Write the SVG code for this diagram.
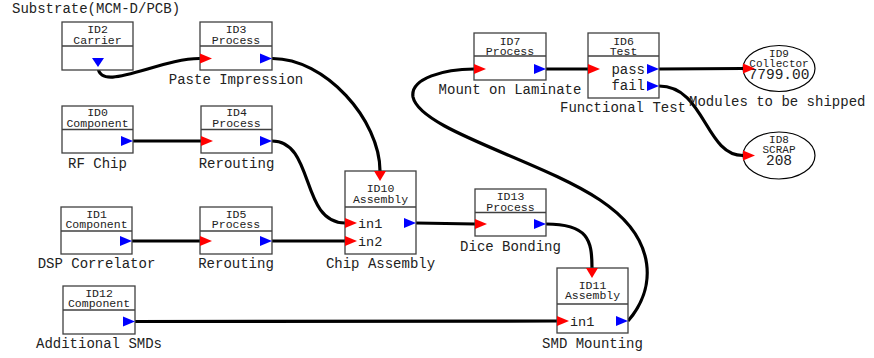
<svg xmlns="http://www.w3.org/2000/svg" width="874" height="358" viewBox="0 0 874 358">
<style>
text{font-family:"Liberation Mono","DejaVu Sans Mono",monospace;fill:#222}
.box{fill:#fff;stroke:#404040;stroke-width:1.3}
.hd{stroke:#404040;stroke-width:1.3}
.h{font-size:11.5px;text-anchor:middle}
.e{font-size:11px;text-anchor:middle}
.lb{font-size:14px;text-anchor:middle}
.pl{font-size:13.5px}
.big{font-size:14.5px;text-anchor:middle}
.in{fill:#ff0000}
.out{fill:#0000ff}
.c{fill:none;stroke:#000;stroke-width:3.2}
</style>
<rect width="874" height="358" fill="#fff"/>
<text x="12" y="13" style="font-size:14px">Substrate(MCM-D/PCB)</text>
<g id="connectors">
<path class="c" d="M98,66 C98,95 160,58 200,58.5"/>
<path class="c" d="M272,58.5 C325,58 380,120 380,171"/>
<path class="c" d="M133,141 L201,141"/>
<path class="c" d="M272,141 C315,141 300,223 345,223"/>
<path class="c" d="M132,241 L200,241"/>
<path class="c" d="M272,241 L345,241"/>
<path class="c" d="M416,223 L475,224"/>
<path class="c" d="M546,224 C588,224 592,240 592,268"/>
<path class="c" d="M135,321.5 L557,321"/>
<path class="c" d="M628,321 C655,290 660,240 600,200 C540,160 420,130 413,97 C410,78 445,69 474,69"/>
<path class="c" d="M546,69 L588,69"/>
<path class="c" d="M659,69 L743,68.5"/>
<path class="c" d="M659,86 C705,86 705,155.5 743,155.5"/>
<text x="689" y="106" style="font-size:14px">Modules to be shipped</text>
</g>
<g id="ID2">
<rect class="box" x="62" y="22" width="71" height="48"/><line class="hd" x1="62" y1="46" x2="133" y2="46"/>
<text class="h" x="97.5" y="33">ID2</text><text class="h" x="97.5" y="44">Carrier</text>
<polygon class="out" points="92,58 104,58 98,67"/>
</g>
<g id="ID3">
<rect class="box" x="200" y="22" width="72" height="48"/><line class="hd" x1="200" y1="46" x2="272" y2="46"/>
<text class="h" x="236" y="33">ID3</text><text class="h" x="236" y="44">Process</text>
<polygon class="in" points="200,53.5 212,58.5 200,63.5"/><polygon class="out" points="260,53.5 272,58.5 260,63.5"/>
<text class="lb" x="236" y="84">Paste Impression</text>
</g>
<g id="ID0">
<rect class="box" x="62" y="106" width="71" height="47"/><line class="hd" x1="62" y1="129.5" x2="133" y2="129.5"/>
<text class="h" x="97.5" y="116">ID0</text><text class="h" x="97.5" y="127">Component</text>
<polygon class="out" points="121,136 133,141 121,146"/>
<text class="lb" x="97.5" y="168">RF Chip</text>
</g>
<g id="ID4">
<rect class="box" x="201" y="106" width="71" height="47"/><line class="hd" x1="201" y1="129.5" x2="272" y2="129.5"/>
<text class="h" x="236.5" y="116">ID4</text><text class="h" x="236.5" y="127">Process</text>
<polygon class="in" points="201,136 213,141 201,146"/><polygon class="out" points="260,136 272,141 260,146"/>
<text class="lb" x="236.5" y="168">Rerouting</text>
</g>
<g id="ID1">
<rect class="box" x="61" y="207" width="71" height="47"/><line class="hd" x1="61" y1="231" x2="132" y2="231"/>
<text class="h" x="96.5" y="217.5">ID1</text><text class="h" x="96.5" y="228">Component</text>
<polygon class="out" points="120,236 132,241 120,246"/>
<text class="lb" x="96.5" y="268">DSP Correlator</text>
</g>
<g id="ID5">
<rect class="box" x="200" y="207" width="72" height="47"/><line class="hd" x1="200" y1="231" x2="272" y2="231"/>
<text class="h" x="236" y="217.5">ID5</text><text class="h" x="236" y="228">Process</text>
<polygon class="in" points="200,236 212,241 200,246"/><polygon class="out" points="260,236 272,241 260,246"/>
<text class="lb" x="236" y="268">Rerouting</text>
</g>
<g id="ID10">
<rect class="box" x="345" y="171" width="71" height="83"/><line class="hd" x1="345" y1="207" x2="416" y2="207"/>
<text class="h" x="380.5" y="192">ID10</text><text class="h" x="380.5" y="202.5">Assembly</text>
<polygon class="in" points="374,171 386,171 380,181"/>
<polygon class="in" points="345,218 357,223 345,228"/><text class="pl" x="358" y="227.5">in1</text>
<polygon class="in" points="345,236 357,241 345,246"/><text class="pl" x="358" y="245.5">in2</text>
<polygon class="out" points="404,218 416,223 404,228"/>
<text class="lb" x="380.5" y="268">Chip Assembly</text>
</g>
<g id="ID13">
<rect class="box" x="475" y="189" width="71" height="47"/><line class="hd" x1="475" y1="212.5" x2="546" y2="212.5"/>
<text class="h" x="510.5" y="200">ID13</text><text class="h" x="510.5" y="210.5">Process</text>
<polygon class="in" points="475,219 487,224 475,229"/><polygon class="out" points="534,219 546,224 534,229"/>
<text class="lb" x="510.5" y="251">Dice Bonding</text>
</g>
<g id="ID11">
<rect class="box" x="557" y="268" width="71" height="65"/><line class="hd" x1="557" y1="304" x2="628" y2="304"/>
<text class="h" x="592.5" y="289">ID11</text><text class="h" x="592.5" y="299">Assembly</text>
<polygon class="in" points="586,268 598,268 592,278"/>
<polygon class="in" points="557,316 569,321 557,326"/><text class="pl" x="570" y="325.5">in1</text>
<polygon class="out" points="616,316 628,321 616,326"/>
<text class="lb" x="592.5" y="348">SMD Mounting</text>
</g>
<g id="ID12">
<rect class="box" x="63" y="286" width="72" height="48"/><line class="hd" x1="63" y1="310" x2="135" y2="310"/>
<text class="h" x="99" y="296.5">ID12</text><text class="h" x="99" y="307">Component</text>
<polygon class="out" points="123,316.5 135,321.5 123,326.5"/>
<text class="lb" x="99" y="348">Additional SMDs</text>
</g>
<g id="ID7">
<rect class="box" x="474" y="33" width="72" height="47"/><line class="hd" x1="474" y1="56" x2="546" y2="56"/>
<text class="h" x="510" y="44.5">ID7</text><text class="h" x="510" y="54.5">Process</text>
<polygon class="in" points="474,64 486,69 474,74"/><polygon class="out" points="534,64 546,69 534,74"/>
<text class="lb" x="510" y="94">Mount on Laminate</text>
</g>
<g id="ID6">
<rect class="box" x="588" y="33" width="71" height="65"/><line class="hd" x1="588" y1="56" x2="659" y2="56"/>
<text class="h" x="623.5" y="44.5">ID6</text><text class="h" x="623.5" y="54.5">Test</text>
<polygon class="in" points="588,64 600,69 588,74"/>
<text x="645" y="73.5" style="font-size:14px;text-anchor:end">pass</text>
<polygon class="out" points="647,64 659,69 647,74"/>
<text x="645" y="90" style="font-size:14px;text-anchor:end">fail</text>
<polygon class="out" points="647,81 659,86 647,91"/>
<text class="lb" x="623" y="112">Functional Test</text>
</g>
<g id="ID9">
<ellipse cx="779" cy="68.5" rx="36" ry="23" fill="#fff" stroke="#000" stroke-width="1.2"/>
<text class="e" x="779" y="57">ID9</text><text class="e" x="779" y="66.5">Collector</text><text class="big" x="779" y="78.5">7799.00</text>
<polygon class="in" points="743,63.5 755,68.5 743,73.5"/>
</g>
<g id="ID8">
<ellipse cx="779" cy="155.5" rx="36" ry="23.5" fill="#fff" stroke="#000" stroke-width="1.2"/>
<text class="e" x="779" y="143">ID8</text><text class="e" x="779" y="152.5">SCRAP</text><text class="big" x="779" y="164.5">208</text>
<polygon class="in" points="743,150.5 755,155.5 743,160.5"/>
</g>
</svg>
